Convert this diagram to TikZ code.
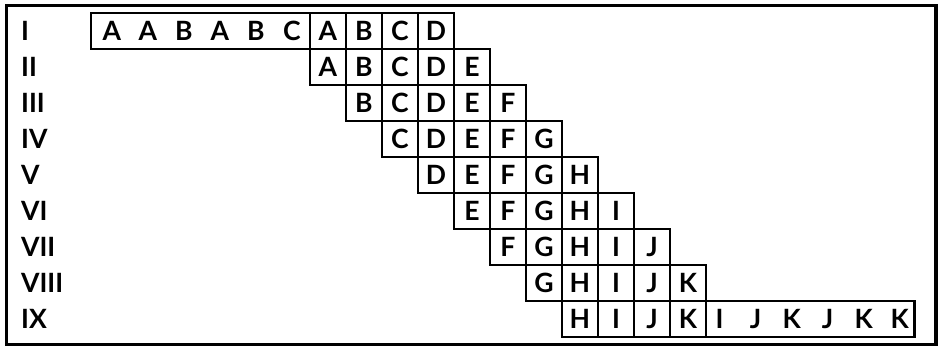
\documentclass[tikz,border=0pt]{standalone}
\usepackage{fontspec}
\setmainfont{Lato}

\tikzset{
  frame/.style={line width=2.4pt},
  cell/.style={draw, line width=2pt, minimum size=1cm, inner sep=0pt,
    font=\bfseries\fontsize{21}{22}\selectfont},
  strip/.style={draw, line width=2pt, minimum height=1cm, inner sep=0pt},
  letter/.style={inner sep=0pt, font=\bfseries\fontsize{21}{22}\selectfont},
  rowlabel/.style={anchor=west, inner sep=0pt, font=\bfseries\fontsize{21}{22}\selectfont}
}

\begin{document}
\begin{tikzpicture}

  \useasboundingbox (0,0) rectangle (26.056,-9.722);

  % Outer frame
  \draw[frame] (0.19,-0.14) rectangle (26.0,-9.58);

  % Row labels
  \node[rowlabel] (lab1) at (0.58,-0.86) {I};
  \node[rowlabel] (lab2) at (0.58,-1.86) {II};
  \node[rowlabel] (lab3) at (0.58,-2.86) {III};
  \node[rowlabel] (lab4) at (0.58,-3.86) {IV};
  \node[rowlabel] (lab5) at (0.58,-4.86) {V};
  \node[rowlabel] (lab6) at (0.58,-5.86) {VI};
  \node[rowlabel] (lab7) at (0.58,-6.86) {VII};
  \node[rowlabel] (lab8) at (0.58,-7.86) {VIII};
  \node[rowlabel] (lab9) at (0.58,-8.86) {IX};

  \begin{scope}[shift={(8.61,-0.36)}]

    % Row I: long strip, then single cells
    \node[strip, minimum width=6.08cm] (r1long) at (-3.04,-0.5) {};
    \foreach \l [count=\k from 0] in {A,A,B,A,B,C}
      \node[letter] (r1s\k) at (-5.5+\k,-0.5) {\l};
    \foreach \l [count=\c from 0] in {A,B,C,D}
      \node[cell] (r1c\c) at (\c+0.5,-0.5) {\l};

    % Rows II to VIII
    \foreach \l [count=\c from 0] in {A,B,C,D,E}
      \node[cell] (r2c\c) at (\c+0.5,-1.5) {\l};
    \foreach \l [count=\c from 1] in {B,C,D,E,F}
      \node[cell] (r3c\c) at (\c+0.5,-2.5) {\l};
    \foreach \l [count=\c from 2] in {C,D,E,F,G}
      \node[cell] (r4c\c) at (\c+0.5,-3.5) {\l};
    \foreach \l [count=\c from 3] in {D,E,F,G,H}
      \node[cell] (r5c\c) at (\c+0.5,-4.5) {\l};
    \foreach \l [count=\c from 4] in {E,F,G,H,I}
      \node[cell] (r6c\c) at (\c+0.5,-5.5) {\l};
    \foreach \l [count=\c from 5] in {F,G,H,I,J}
      \node[cell] (r7c\c) at (\c+0.5,-6.5) {\l};
    \foreach \l [count=\c from 6] in {G,H,I,J,K}
      \node[cell] (r8c\c) at (\c+0.5,-7.5) {\l};

    % Row IX: single cells, then long strip
    \foreach \l [count=\c from 7] in {H,I,J,K}
      \node[cell] (r9c\c) at (\c+0.5,-8.5) {\l};
    \node[strip, minimum width=5.8cm] (r9long) at (13.9,-8.5) {};
    \foreach \l [count=\k from 0] in {I,J,K,J,K,K}
      \node[letter] (r9s\k) at (11.38+\k,-8.5) {\l};

  \end{scope}

\end{tikzpicture}
\end{document}
